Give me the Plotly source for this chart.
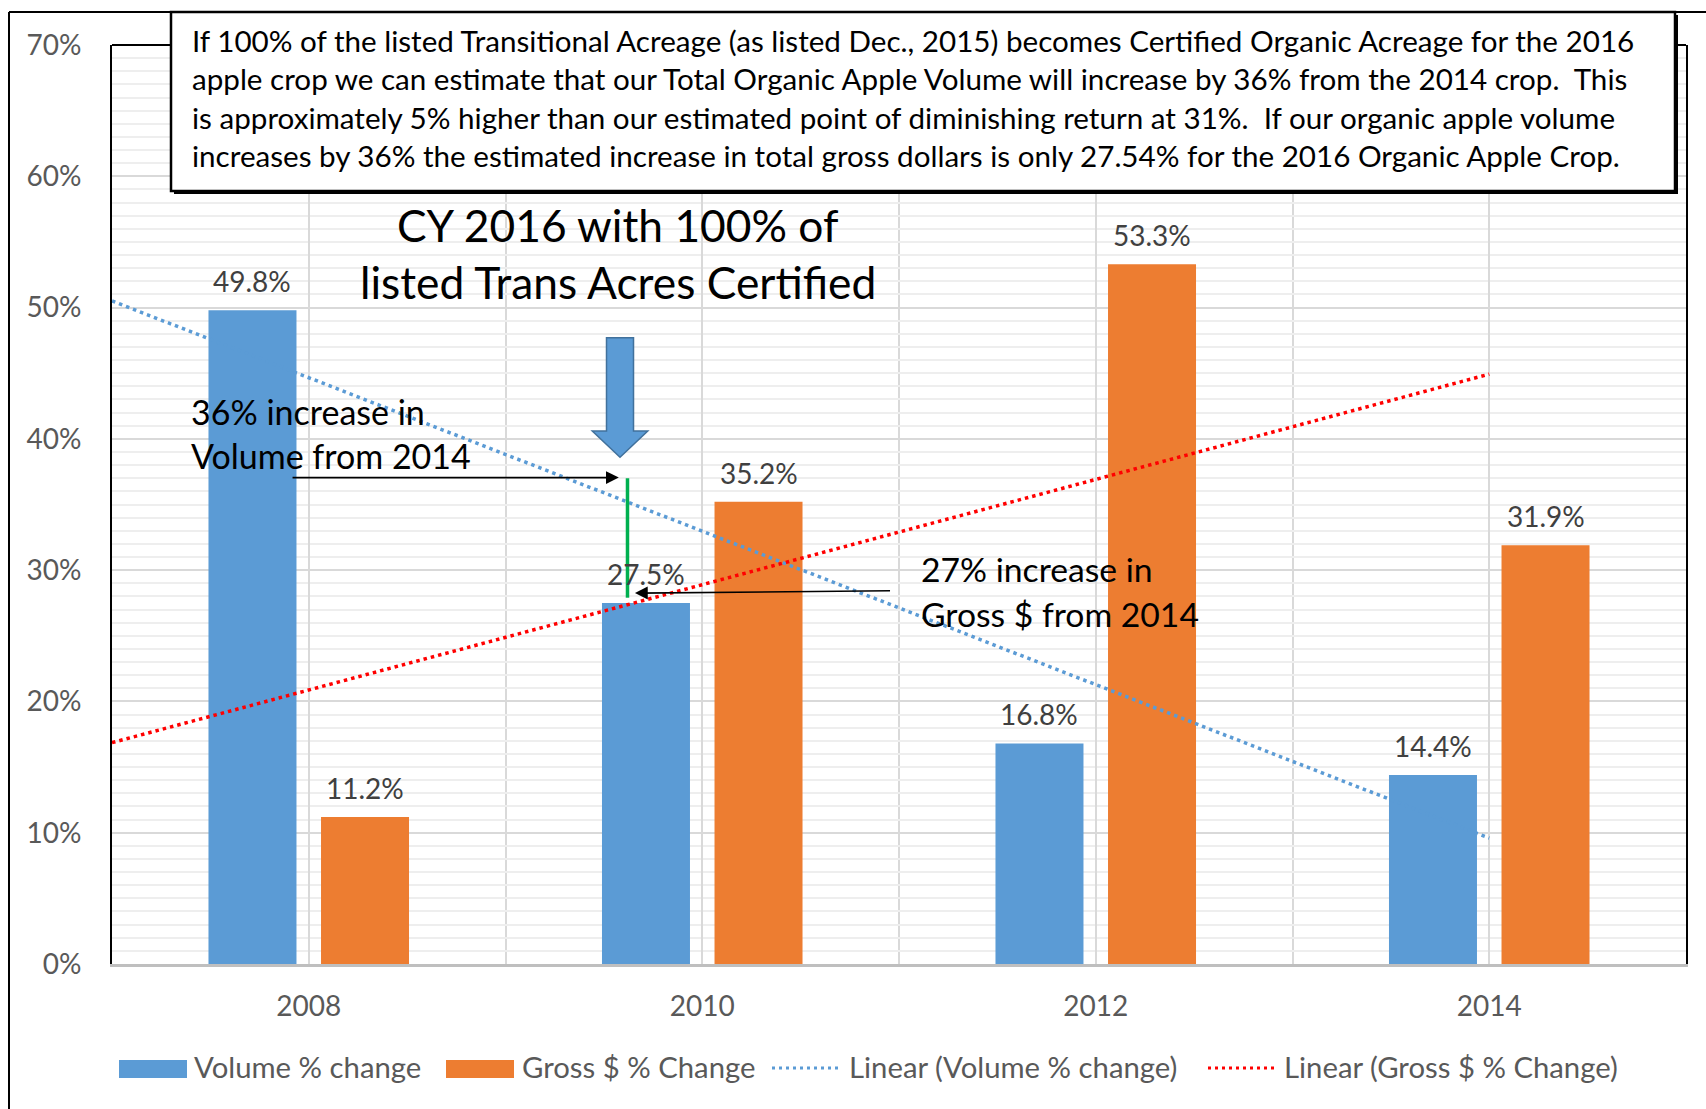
import numpy as np
import plotly.graph_objects as go

# ---------------- data ----------------
years = ["2008", "2010", "2012", "2014"]
volume_pct = [49.8, 27.5, 16.8, 14.4]
gross_pct = [11.2, 35.2, 53.3, 31.9]
y_ticks = [0, 10, 20, 30, 40, 50, 60, 70]
y_tick_labels = ["0%", "10%", "20%", "30%", "40%", "50%", "60%", "70%"]

para_lines = [
    "If 100% of the listed Transitional Acreage (as listed Dec., 2015) becomes Certified Organic Acreage for the 2016",
    "apple crop we can estimate that our Total Organic Apple Volume will increase by 36% from the 2014 crop.  This",
    "is approximately 5% higher than our estimated point of diminishing return at 31%.  If our organic apple volume",
    "increases by 36% the estimated increase in total gross dollars is only 27.54% for the 2016 Organic Apple Crop.",
]
title_lines = ["CY 2016 with 100% of", "listed Trans Acres Certified"]
vol_note = ["36% increase in", "Volume from 2014"]
gross_note = ["27% increase in", "Gross $ from 2014"]
legend_names = ["Volume % change", "Gross $ % Change",
                "Linear (Volume % change)", "Linear (Gross $ % Change)"]

# ---------------- style ----------------
FONT = "Lato, Carlito, Calibri, sans-serif"
BLUE = "#5B9BD5"
ORANGE = "#ED7D31"
RED = "#FF0000"
GRAY_TXT = "#595959"
LBL_TXT = "#404040"

W, H = 1706, 1109
L, R, T, B = 112, 20, 45, 145
PW, PH = W - L - R, H - T - B


def PX(x):
    return (x - L) / PW


def PY(y):
    return (H - B - y) / PH


x_idx = np.arange(len(years))
OFF = 0.143  # half distance between grouped bar centres (category units)

fig = go.Figure()
fig.add_trace(go.Bar(x=x_idx, y=volume_pct, name=legend_names[0],
                     marker=dict(color=BLUE, line=dict(width=0)), showlegend=False))
fig.add_trace(go.Bar(x=x_idx, y=gross_pct, name=legend_names[1],
                     marker=dict(color=ORANGE, line=dict(width=0)), showlegend=False))

# linear trend lines (least squares), extended half a category backwards
xt = np.array([-0.5, x_idx[-1]])
pv = np.polyfit(x_idx, volume_pct, 1)
pg = np.polyfit(x_idx, gross_pct, 1)
fig.add_trace(go.Scatter(x=xt, y=np.polyval(pv, xt), mode="lines", name=legend_names[2],
                         line=dict(color=BLUE, width=3.5, dash="3.5px,4px"), showlegend=False))
fig.add_trace(go.Scatter(x=xt, y=np.polyval(pg, xt), mode="lines", name=legend_names[3],
                         line=dict(color=RED, width=3.5, dash="3.5px,4px"), showlegend=False))

ann = []
# data labels
for i, v in enumerate(volume_pct):
    ann.append(dict(x=i - OFF, y=v, xref="x", yref="y", text=f"{v:.1f}%", showarrow=False,
                    yshift=29, yanchor="middle", font=dict(family=FONT, size=28, color=LBL_TXT)))
for i, v in enumerate(gross_pct):
    ann.append(dict(x=i + OFF, y=v, xref="x", yref="y", text=f"{v:.1f}%", showarrow=False,
                    yshift=29, yanchor="middle", font=dict(family=FONT, size=28, color=LBL_TXT)))

shapes = []
# outer frame (cut at right / bottom)
shapes.append(dict(type="line", xref="paper", yref="paper", x0=PX(9), x1=PX(9), y0=PY(12), y1=PY(H + 5),
                   line=dict(color="black", width=2)))
shapes.append(dict(type="line", xref="paper", yref="paper", x0=PX(9), x1=PX(W + 5), y0=PY(12), y1=PY(12),
                   line=dict(color="black", width=2)))
# plot area top border
shapes.append(dict(type="line", xref="paper", yref="paper", x0=0, x1=1, y0=1, y1=1,
                   line=dict(color="black", width=2)))

# green connector
shapes.append(dict(type="line", xref="x", yref="y", x0=0.81, x1=0.81, y0=27.9, y1=37.0,
                   line=dict(color="#00B050", width=3.5)))

# block down arrow
ax_c, ahw, shw = 0.791, 0.0705, 0.0343
tip_y, base_y, top_y = 38.6, 40.6, 47.7
path = (f"M{ax_c - shw},{top_y} L{ax_c + shw},{top_y} L{ax_c + shw},{base_y} "
        f"L{ax_c + ahw},{base_y} L{ax_c},{tip_y} L{ax_c - ahw},{base_y} "
        f"L{ax_c - shw},{base_y} Z")
shapes.append(dict(type="path", xref="x", yref="y", path=path, fillcolor=BLUE,
                   line=dict(color="#41719C", width=1.5)))

# text box with shadow
shapes.append(dict(type="rect", xref="paper", yref="paper", x0=PX(174), x1=PX(1678), y0=PY(194), y1=PY(15),
                   fillcolor="#000000", line=dict(width=0)))
shapes.append(dict(type="rect", xref="paper", yref="paper", x0=PX(171), x1=PX(1675), y0=PY(191), y1=PY(12),
                   fillcolor="white", line=dict(color="black", width=2.5)))

# paragraph text
for k, line in enumerate(para_lines):
    ann.append(dict(x=PX(190), y=PY(40.5 + 38.4 * k), xref="paper", yref="paper", text=line,
                    showarrow=False, xanchor="left", yanchor="middle",
                    font=dict(family=FONT, size=29.6, color="black")))
# title
for k, line in enumerate(title_lines):
    ann.append(dict(x=PX(618), y=PY(224 + 57.7 * k), xref="paper", yref="paper", text=line,
                    showarrow=False, xanchor="center", yanchor="middle",
                    font=dict(family=FONT, size=44.3, color="black")))
# notes
for k, line in enumerate(vol_note):
    ann.append(dict(x=PX(189), y=PY(411 + 44.6 * k), xref="paper", yref="paper", text=line,
                    showarrow=False, xanchor="left", yanchor="middle",
                    font=dict(family=FONT, size=34, color="black")))
for k, line in enumerate(gross_note):
    ann.append(dict(x=PX(919), y=PY(569 + 44.6 * k), xref="paper", yref="paper", text=line,
                    showarrow=False, xanchor="left", yanchor="middle",
                    font=dict(family=FONT, size=33.7, color="black")))

# thin black arrows
ann.append(dict(x=0.788, y=37.05, ax=-0.045, ay=37.05, xref="x", yref="y", axref="x", ayref="y",
                text="", showarrow=True, arrowhead=2, arrowsize=1.6, arrowwidth=1.6, arrowcolor="black"))
ann.append(dict(x=0.829, y=28.25, ax=1.481, ay=28.43, xref="x", yref="y", axref="x", ayref="y",
                text="", showarrow=True, arrowhead=2, arrowsize=1.6, arrowwidth=1.6, arrowcolor="black"))

# manual legend
leg_y = 1068
sw = [(119, 187), (446, 514), (772, 840), (1208, 1275)]
txt_x = [192, 520, 847, 1282]
shapes.append(dict(type="rect", xref="paper", yref="paper", x0=PX(sw[0][0]), x1=PX(sw[0][1]),
                   y0=PY(1078), y1=PY(1060), fillcolor=BLUE, line=dict(width=0)))
shapes.append(dict(type="rect", xref="paper", yref="paper", x0=PX(sw[1][0]), x1=PX(sw[1][1]),
                   y0=PY(1078), y1=PY(1060), fillcolor=ORANGE, line=dict(width=0)))
shapes.append(dict(type="line", xref="paper", yref="paper", x0=PX(sw[2][0]), x1=PX(sw[2][1]),
                   y0=PY(leg_y), y1=PY(leg_y), line=dict(color=BLUE, width=3, dash="3px,4px")))
shapes.append(dict(type="line", xref="paper", yref="paper", x0=PX(sw[3][0]), x1=PX(sw[3][1]),
                   y0=PY(leg_y), y1=PY(leg_y), line=dict(color=RED, width=3, dash="3px,4px")))
for name, tx in zip(legend_names, txt_x):
    ann.append(dict(x=PX(tx), y=PY(leg_y - 2), xref="paper", yref="paper", text=name,
                    showarrow=False, xanchor="left", yanchor="middle",
                    font=dict(family=FONT, size=29.3, color=GRAY_TXT)))

fig.update_layout(
    width=W, height=H, autosize=False,
    margin=dict(l=L, r=R, t=T, b=B, pad=0),
    paper_bgcolor="white", plot_bgcolor="white",
    barmode="group", bargap=0.428, bargroupgap=0.218,
    font=dict(family=FONT, size=28, color=GRAY_TXT),
    shapes=shapes, annotations=ann, showlegend=False,
    xaxis=dict(range=[-0.5, 3.5], tickvals=list(x_idx), ticktext=years, ticks="",
               showgrid=True, gridcolor="#D9D9D9", gridwidth=1.5,
               minor=dict(tick0=0.5, dtick=1, showgrid=True, gridcolor="#D9D9D9", gridwidth=1.5),
               zeroline=False, showline=True, linecolor="#BFBFBF", linewidth=2.5,
               tickfont=dict(family=FONT, size=28, color=GRAY_TXT), ticklabelstandoff=16,
               fixedrange=True),
    yaxis=dict(range=[0, 70], tickvals=y_ticks, ticktext=y_tick_labels, ticks="",
               showgrid=True, gridcolor="#D9D9D9", gridwidth=2,
               minor=dict(dtick=1, showgrid=True, gridcolor="#EEEEEE", gridwidth=1.5),
               zeroline=False, showline=True, mirror=True, linecolor="black", linewidth=2,
               tickfont=dict(family=FONT, size=28, color=GRAY_TXT), ticklabelstandoff=23,
               fixedrange=True),
)

fig.write_html("out.html", config=dict(displayModeBar=False),
               post_script="document.body.style.margin='0px';document.body.style.overflow='hidden';")
